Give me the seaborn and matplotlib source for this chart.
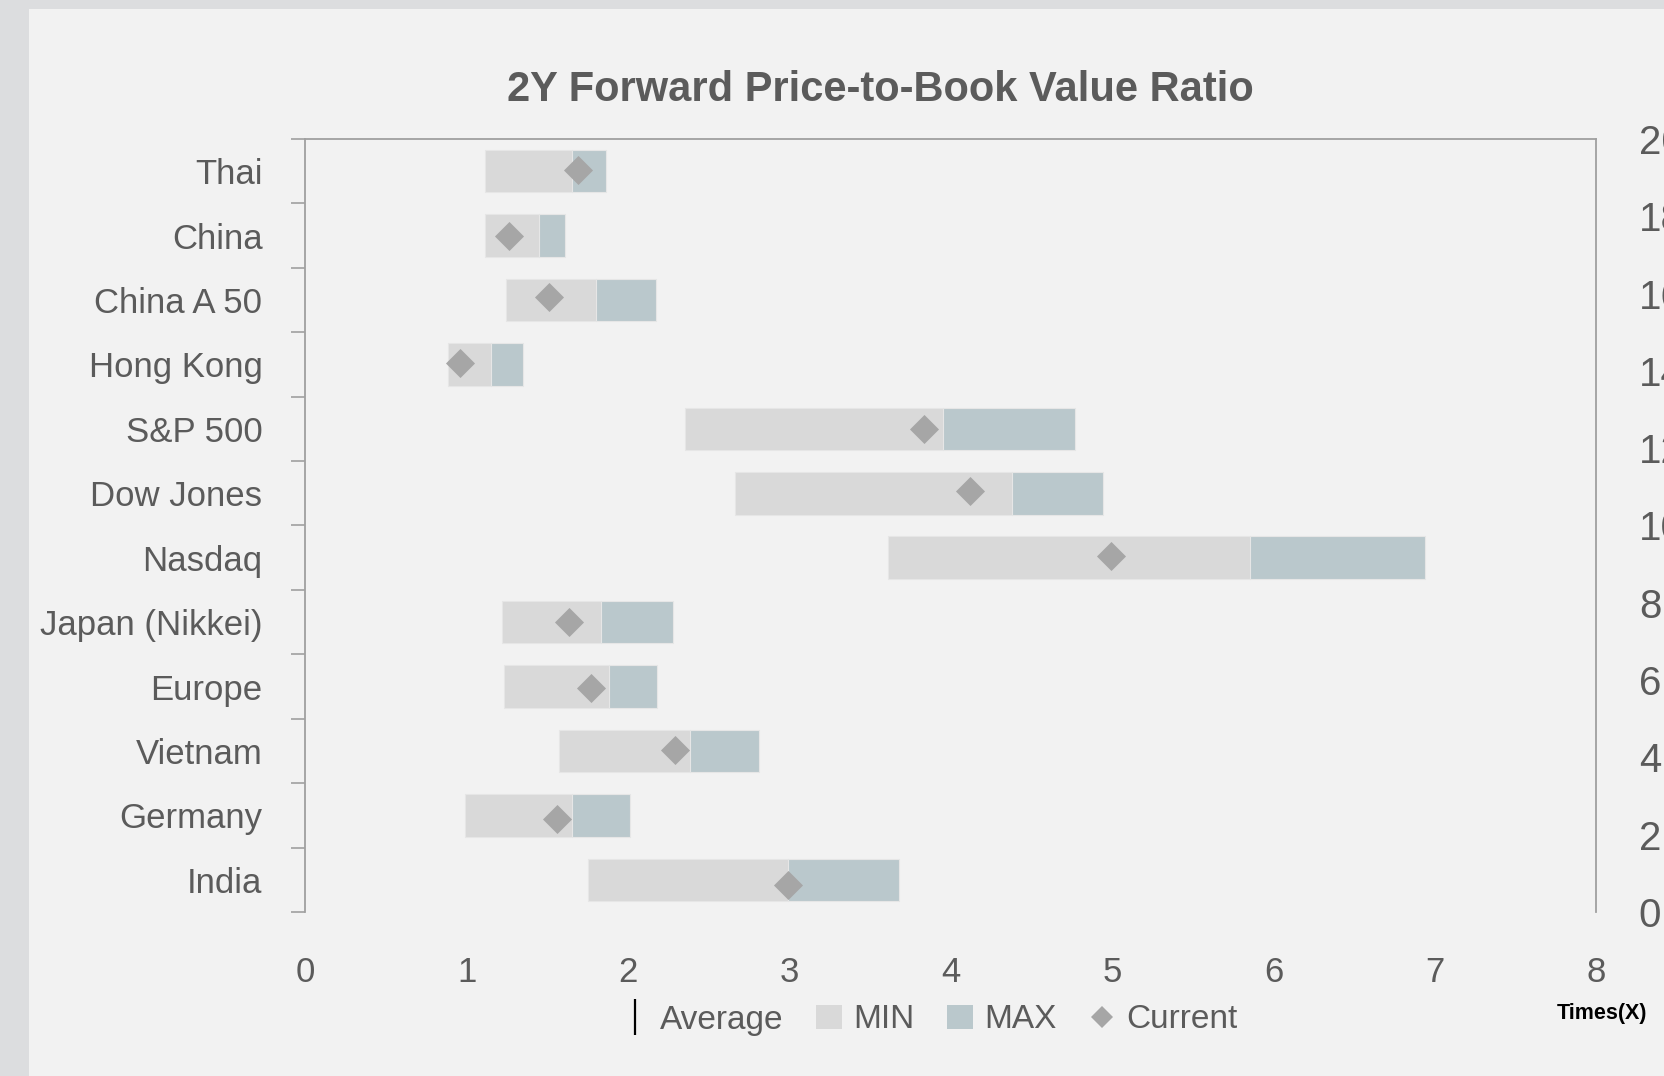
import matplotlib
matplotlib.use('Agg')
import matplotlib.pyplot as plt
from matplotlib.patches import Patch, Rectangle
from matplotlib.lines import Line2D
import numpy as np
import pandas as pd
import seaborn as sns

sns.set_theme(style="white")
plt.rcParams['font.family'] = ['Liberation Sans', 'DejaVu Sans']

# values (times book value)
categories = ["Thai", "China", "China A 50", "Hong Kong", "S&P 500", "Dow Jones",
              "Nasdaq", "Japan (Nikkei)", "Europe", "Vietnam", "Germany", "India"]
min_vals = [1.11, 1.11, 1.24, 0.88, 2.35, 2.66, 3.61, 1.22, 1.23, 1.57, 0.99, 1.75]
avg_vals = [1.65, 1.45, 1.80, 1.15, 3.95, 4.38, 5.85, 1.83, 1.88, 2.38, 1.65, 2.99]
max_vals = [1.86, 1.61, 2.17, 1.35, 4.77, 4.94, 6.94, 2.28, 2.18, 2.81, 2.01, 3.68]
current_vals = [1.69, 1.26, 1.51, 0.96, 3.83, 4.12, 4.99, 1.63, 1.77, 2.29, 1.56, 2.99]
# position of the diamonds on the secondary (0-20) axis
current_pos = [19.2, 17.5, 15.9, 14.2, 12.5, 10.9, 9.2, 7.5, 5.8, 4.2, 2.4, 0.7]
right_ticks = list(range(0, 21, 2))
x_ticks = list(range(0, 9))

df = pd.DataFrame({"category": categories, "min": min_vals, "avg": avg_vals,
                   "max": max_vals, "current": current_vals, "pos": current_pos})
df["min_span"] = df["avg"] - df["min"]
df["max_span"] = df["max"] - df["avg"]

C_MIN = "#d9d9d9"
C_MAX = "#bac8cc"
C_CUR = "#a6a6a6"
C_TXT = "#5b5b5b"
C_AX = "#a0a0a0"

W, H = 1665, 1076
fig = plt.figure(figsize=(W / 100, H / 100), dpi=100, facecolor="#dcdddf")
fig.patches.append(Rectangle((29.5 / W, 0), 1, 1 - 9 / H, transform=fig.transFigure,
                             facecolor="#f2f2f2", edgecolor="none", zorder=-5))

ax = fig.add_axes([305.5 / W, 1 - 912 / H, 1291 / W, 773 / H])
ax.set_facecolor("none")

sns.barplot(data=df, x="min_span", y="category", left=df["min"], order=categories,
            color=C_MIN, saturation=1, width=0.66, errorbar=None, ax=ax, zorder=2,
            edgecolor="#e6e6e6", linewidth=0.8)
sns.barplot(data=df, x="max_span", y="category", left=df["avg"], order=categories,
            color=C_MAX, saturation=1, width=0.66, errorbar=None, ax=ax, zorder=2,
            edgecolor="#e6e6e6", linewidth=0.8)

ax.set_xlim(0, 8)
ax.set_ylim(len(categories) - 0.5, -0.5)
ax.set_xticks(x_ticks)
ax.set_xlabel("")
ax.set_ylabel("")
ax.set_yticks(np.arange(len(categories)))
ax.set_yticklabels(categories)
ax.set_yticks(np.arange(-0.5, len(categories), 1), minor=True)
ax.tick_params(axis="x", which="both", length=0, pad=32, labelsize=25, labelcolor=C_TXT)
ax.tick_params(axis="y", which="major", length=0, pad=31, labelsize=25, labelcolor=C_TXT)
ax.tick_params(axis="y", which="minor", left=True, length=10, width=1.2,
               color=C_AX, direction="out")

for side in ["top", "left"]:
    ax.spines[side].set_visible(True)
    ax.spines[side].set_color(C_AX)
    ax.spines[side].set_linewidth(1.3)
ax.spines["bottom"].set_visible(False)
ax.spines["right"].set_visible(False)

ax2 = ax.twinx()
sns.scatterplot(data=df, x="current", y="pos", marker="D", s=219, color=C_CUR,
                linewidth=0, ax=ax2, zorder=4)
ax2.set_ylim(0, 20)
ax2.set_yticks(right_ticks)
ax2.set_ylabel("")
ax2.set_xlabel("")
ax2.tick_params(axis="y", length=0, pad=30.5, labelsize=29, labelcolor=C_TXT)
for side in ["top", "left", "bottom"]:
    ax2.spines[side].set_visible(False)
ax2.spines["right"].set_visible(True)
ax2.spines["right"].set_color(C_AX)
ax2.spines["right"].set_linewidth(1.3)

fig.text(880 / W, 1 - 90 / H, "2Y Forward Price-to-Book Value Ratio", ha="center",
         va="center", fontsize=30, fontweight="bold", color=C_TXT)
fig.text(1557 / W, 1 - 1013 / H, "Times(X)", ha="left", va="center",
         fontsize=15.5, fontweight="bold", color="black")

handles = [
    Line2D([], [], marker="|", color="black", linestyle="none", markersize=26, mew=1.6),
    Patch(facecolor=C_MIN, edgecolor="none"),
    Patch(facecolor=C_MAX, edgecolor="none"),
    Line2D([], [], marker="D", color=C_CUR, linestyle="none", markersize=11.7, mew=0),
]
fig.legend(handles, ["Average", "MIN", "MAX", "Current"], loc="center",
           bbox_to_anchor=(930 / W, 1 - 1020 / H), ncol=4, frameon=False, fontsize=24,
           handlelength=0.78, handletextpad=0.35, columnspacing=0.96, labelcolor=C_TXT)

fig.savefig("out.png", dpi=100, facecolor=fig.get_facecolor())
plt.close(fig)
